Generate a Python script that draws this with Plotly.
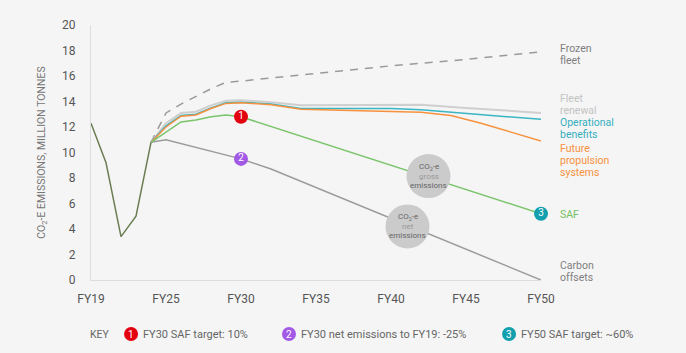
import plotly.graph_objects as go

# ---- data (x = year index, 0 = FY19 ... 30 = FY50) ----
tick_vals = [0, 5, 10, 15, 20, 25, 30]
tick_text = ["FY19", "FY25", "FY30", "FY35", "FY40", "FY45", "FY50"]
y_ticks = [0, 2, 4, 6, 8, 10, 12, 14, 16, 18, 20]

hist_x = [0, 1, 2, 3, 4]
hist_y = [12.3, 9.2, 3.4, 5.0, 10.8]

frozen_x = [4, 5, 6, 7, 8, 9, 10, 15, 20, 25, 30]
frozen_y = [10.8, 13.1, 13.8, 14.4, 15.0, 15.5, 15.6, 16.2, 16.8, 17.3, 17.9]

renewal_x = [4, 5, 6, 7, 8, 9, 10, 12, 14, 17, 20, 22, 25, 28, 30]
renewal_y = [10.8, 12.3, 13.1, 13.2, 13.7, 14.05, 14.1, 13.95, 13.7, 13.7, 13.75, 13.75, 13.5, 13.25, 13.1]

operational_x = [4, 5, 6, 7, 8, 9, 10, 12, 14, 17, 20, 22, 25, 28, 30]
operational_y = [10.8, 12.1, 12.9, 13.0, 13.5, 13.9, 13.95, 13.8, 13.45, 13.45, 13.45, 13.35, 13.05, 12.8, 12.6]

future_x = [4, 5, 6, 7, 8, 9, 10, 12, 14, 17, 20, 22, 24, 26, 28, 30]
future_y = [10.8, 12.0, 12.85, 12.95, 13.45, 13.85, 13.9, 13.75, 13.4, 13.3, 13.2, 13.15, 12.9, 12.3, 11.6, 10.9]

saf_x = [4, 5, 6, 7, 8, 9, 10, 30]
saf_y = [10.8, 11.6, 12.4, 12.55, 12.8, 12.95, 12.8, 5.2]

offsets_x = [4, 5, 10, 12, 30]
offsets_y = [10.8, 11.0, 9.5, 8.7, 0.0]

target_x = [10, 10, 30]
target_y = [12.8, 9.5, 5.2]
target_lbl = ["1", "2", "3"]
target_col = ["#e3000f", "#a259e6", "#139fae"]

key_texts = ["FY30 SAF target: 10%", "FY30 net emissions to FY19: -25%", "FY50 SAF target: ~60%"]

FONT = "Roboto"
fig = go.Figure()

def line(x, y, color, dash="solid", w=1.5):
    fig.add_trace(go.Scatter(x=x, y=y, mode="lines", line=dict(color=color, width=w, dash=dash),
                             hoverinfo="skip", showlegend=False))

line(frozen_x, frozen_y, "#9a9a9a", dash="8px,7px")
line(renewal_x, renewal_y, "#cfcfcf", w=2)
line(operational_x, operational_y, "#3ab5c4")
line(future_x, future_y, "#f7913d")
line(offsets_x, offsets_y, "#9b9b9b")
line(saf_x, saf_y, "#7ac46b")
line(hist_x, hist_y, "#6a7d52")

fig.add_trace(go.Scatter(x=target_x, y=target_y, mode="markers+text", text=target_lbl,
                         textposition="middle center",
                         textfont=dict(color="white", size=10, family=FONT),
                         marker=dict(size=14, color=target_col, line=dict(width=0)),
                         cliponaxis=False, hoverinfo="skip", showlegend=False))

# circles with labels
def bubble(cx, cy, lines):
    fig.add_shape(type="circle", xref="x", yref="y", xsizemode="pixel", ysizemode="pixel",
                  xanchor=cx, yanchor=cy, x0=-22, x1=22, y0=-22, y1=22,
                  fillcolor="#cbcbcb", line=dict(width=0), layer="above")
    for i, (t, c) in enumerate(lines):
        fig.add_annotation(x=cx, y=cy, xref="x", yref="y", showarrow=False, text=t,
                           xanchor="center", yanchor="middle", yshift=(1 - i) * 9,
                           font=dict(size=8, color=c, family=FONT))

bubble(22.5, 8.15, [("CO<sub>2</sub>-e", "#666"), ("gross", "#999"), ("emissions", "#666")])
bubble(21.1, 4.2, [("CO<sub>2</sub>-e", "#666"), ("net", "#999"), ("emissions", "#666")])

# right labels (one annotation per line)
right = [
    (17.7, ["Frozen", "fleet"], "#808080"),
    (13.8, ["Fleet", "renewal"], "#c3c3c3"),
    (11.85, ["Operational", "benefits"], "#35afbf"),
    (9.4, ["Future", "propulsion", "systems"], "#f7913d"),
    (5.1, ["SAF"], "#72c062"),
    (0.7, ["Carbon", "offsets"], "#808080"),
]
for yv, parts, c in right:
    n = len(parts)
    for i, t in enumerate(parts):
        fig.add_annotation(x=30, y=yv, xref="x", yref="y", xanchor="left", yanchor="middle", xshift=17,
                           yshift=((n - 1) / 2 - i) * 12, showarrow=False, text=t, align="left",
                           font=dict(size=10.5, color=c, family=FONT))

# key
key_y = -0.212
fig.add_annotation(x=-0.007, y=key_y, xref="paper", yref="paper", xanchor="left", yanchor="middle",
                   showarrow=False, text="KEY", font=dict(size=10.5, color="#666", family=FONT))
key_pos = [0.089, 0.44, 0.929]
for px, lbl, col, t in zip(key_pos, target_lbl, target_col, key_texts):
    fig.add_shape(type="circle", xref="paper", yref="paper", xsizemode="pixel", ysizemode="pixel",
                  xanchor=px, yanchor=key_y, x0=-7, x1=7, y0=-7, y1=7,
                  fillcolor=col, line=dict(width=0))
    fig.add_annotation(x=px, y=key_y, xref="paper", yref="paper", xanchor="center", yanchor="middle",
                       showarrow=False, text=lbl, font=dict(size=10, color="white", family=FONT))
    fig.add_annotation(x=px, y=key_y, xref="paper", yref="paper", xanchor="left", yanchor="middle",
                       xshift=10, showarrow=False, text=t,
                       font=dict(size=11, color="#666", family=FONT))

fig.update_layout(
    width=686, height=353, margin=dict(l=91, r=145, t=25, b=73),
    paper_bgcolor="#f5f5f5", plot_bgcolor="#f5f5f5",
    font=dict(family=FONT, color="#555"),
    xaxis=dict(range=[0, 30], tickvals=tick_vals, ticktext=tick_text, showgrid=False, zeroline=False,
               showline=True, linecolor="#dcdcdc", linewidth=1, ticks="", ticklabelstandoff=8,
               tickfont=dict(size=12, color="#555")),
    yaxis=dict(range=[0, 20], tickvals=y_ticks, showgrid=False, zeroline=False,
               showline=True, linecolor="#dcdcdc", linewidth=1, ticks="", ticklabelstandoff=12,
               tickfont=dict(size=12, color="#555"),
               title=dict(text="CO<sub>2</sub>-E EMISSIONS, MILLION TONNES", standoff=14,
                          font=dict(size=10.5, color="#777"))),
)

fig.write_html("out.html")
